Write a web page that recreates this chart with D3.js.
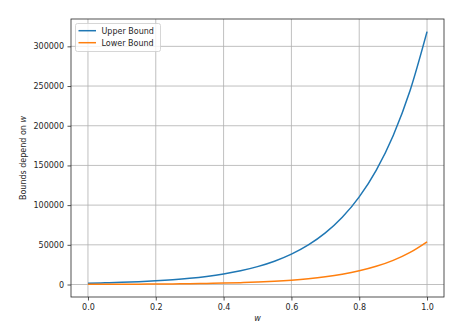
<!DOCTYPE html>
<html>
<head>
<meta charset="utf-8">
<script src="https://cdn.jsdelivr.net/npm/d3@7"></script>
<style>
  body { margin: 0; background: #fff; }
  text { font-family: "DejaVu Sans", sans-serif; fill: #262626; }
</style>
</head>
<body>
<div id="chart"></div>
<script>
var width = 468;
var height = 331;

// values
var wValues = [0, 0.05, 0.1, 0.15, 0.2, 0.25, 0.3, 0.35, 0.4, 0.45, 0.5,
               0.55, 0.6, 0.65, 0.7, 0.75, 0.8, 0.85, 0.9, 0.95, 1.0];
var upperBound = [1590, 2072, 2701, 3521, 4589, 5982, 7797, 10163, 13247, 17266, 22505,
                  29334, 38234, 49837, 64958, 84665, 110355, 143840, 187490, 244380, 318540];
var lowerBound = [180, 239, 318, 423, 563, 749, 996, 1324, 1761, 2342, 3114,
                  4141, 5507, 7323, 9738, 12950, 17221, 22900, 30453, 40496, 53852];
var xTicks = [0, 0.2, 0.4, 0.6, 0.8, 1.0];
var yTicks = [0, 50000, 100000, 150000, 200000, 250000, 300000];
var seriesNames = ["Upper Bound", "Lower Bound"];
var seriesColors = ["#1f77b4", "#ff7f0e"];

var margin = {left: 71, right: 24, top: 19, bottom: 34};

var svg = d3.select("#chart")
  .append("svg")
  .attr("width", width)
  .attr("height", height);

var x = d3.scaleLinear()
  .domain([-0.05, 1.05])
  .range([margin.left, width - margin.right]);

var yMin = d3.min(lowerBound), yMax = d3.max(upperBound);
var pad = (yMax - yMin) * 0.05;
var y = d3.scaleLinear()
  .domain([yMin - pad, yMax + pad])
  .range([height - margin.bottom, margin.top]);

// grid
var grid = svg.append("g");
grid.selectAll(".vg").data(xTicks).enter().append("line")
  .attr("x1", function(d){ return x(d); }).attr("x2", function(d){ return x(d); })
  .attr("y1", margin.top).attr("y2", height - margin.bottom)
  .attr("stroke", "#b0b0b0").attr("stroke-width", 0.8);
grid.selectAll(".hg").data(yTicks).enter().append("line")
  .attr("x1", margin.left).attr("x2", width - margin.right)
  .attr("y1", function(d){ return y(d); }).attr("y2", function(d){ return y(d); })
  .attr("stroke", "#b0b0b0").attr("stroke-width", 0.8);

// lines
var series = [upperBound, lowerBound];
var line = d3.line()
  .x(function(d, i){ return x(wValues[i]); })
  .y(function(d){ return y(d); })
  .curve(d3.curveMonotoneX);

svg.selectAll(".series").data(series).enter().append("path")
  .attr("d", line)
  .attr("fill", "none")
  .attr("stroke", function(d, i){ return seriesColors[i]; })
  .attr("stroke-width", 1.5);

// axes
var xAxis = svg.append("g")
  .attr("transform", "translate(0," + (height - margin.bottom) + ")")
  .call(d3.axisBottom(x).tickValues(xTicks).tickFormat(d3.format(".1f")).tickSize(3.5).tickPadding(3.5));
var yAxis = svg.append("g")
  .attr("transform", "translate(" + margin.left + ",0)")
  .call(d3.axisLeft(y).tickValues(yTicks).tickFormat(d3.format("d")).tickSize(3.5).tickPadding(3.5));

[xAxis, yAxis].forEach(function(a){
  a.select(".domain").remove();
  a.selectAll("line").attr("stroke", "#262626").attr("stroke-width", 0.8);
  a.selectAll("text").style("font-size", "8px").style("font-family", "DejaVu Sans").attr("fill", "#262626");
});

// frame
svg.append("rect")
  .attr("x", margin.left).attr("y", margin.top)
  .attr("width", width - margin.left - margin.right)
  .attr("height", height - margin.top - margin.bottom)
  .attr("fill", "none").attr("stroke", "#262626").attr("stroke-width", 0.8);

// axis labels
svg.append("text")
  .attr("x", (margin.left + width - margin.right) / 2)
  .attr("y", 321)
  .attr("text-anchor", "middle")
  .style("font-size", "8px").style("font-style", "italic")
  .text("w");

var yl = svg.append("text")
  .attr("transform", "translate(26," + ((margin.top + height - margin.bottom) / 2) + ") rotate(-90)")
  .attr("text-anchor", "middle")
  .style("font-size", "8px");
yl.append("tspan").text("Bounds depend on ");
yl.append("tspan").style("font-style", "italic").text("w");

// legend
var legend = svg.append("g").attr("transform", "translate(75.5,23.5)");
legend.append("rect")
  .attr("width", 85).attr("height", 28).attr("rx", 2)
  .attr("fill", "#fff").attr("fill-opacity", 0.8)
  .attr("stroke", "#cccccc").attr("stroke-width", 0.8);
seriesNames.forEach(function(name, i){
  legend.append("line")
    .attr("x1", 3).attr("x2", 20.5)
    .attr("y1", 7.2 + i * 12).attr("y2", 7.2 + i * 12)
    .attr("stroke", seriesColors[i]).attr("stroke-width", 1.5);
  legend.append("text")
    .attr("x", 26).attr("y", 10 + i * 12)
    .style("font-size", "8px")
    .text(name);
});
</script>
</body>
</html>
